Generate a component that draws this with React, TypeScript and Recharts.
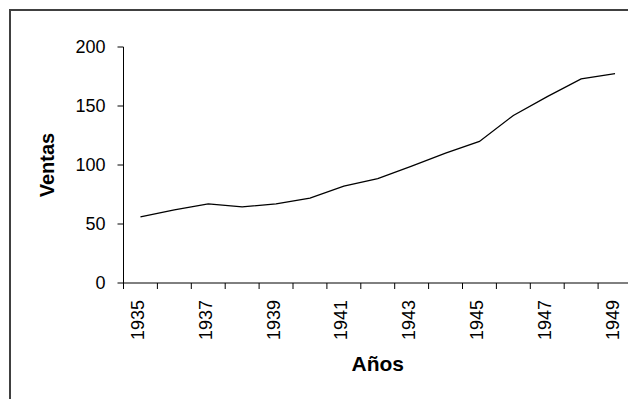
import React from 'react';
import { LineChart, Line, XAxis, YAxis } from 'recharts';

const years = [1935, 1936, 1937, 1938, 1939, 1940, 1941, 1942, 1943, 1944, 1945, 1946, 1947, 1948, 1949];
const ventas = [56, 62, 67, 64.5, 67, 72, 82, 88.5, 99, 110, 120, 142, 158, 173, 177.5];
const yTicks = [0, 50, 100, 150, 200];
const xLabelYears = [1935, 1937, 1939, 1941, 1943, 1945, 1947, 1949];
const xTickBounds = [1934.5, 1935.5, 1936.5, 1937.5, 1938.5, 1939.5, 1940.5, 1941.5, 1942.5, 1943.5, 1944.5, 1945.5, 1946.5, 1947.5, 1948.5, 1949.5];

const data = years.map((y, i) => ({ year: y, ventas: ventas[i] }));
const allXTicks = [...xTickBounds, ...xLabelYears].sort((a, b) => a - b);

const FONT = '"Liberation Sans", Arial, Helvetica, sans-serif';

const XTick = (props: any) => {
  const { x, y, payload } = props;
  const v = payload.value;
  if (xLabelYears.includes(v)) {
    return (
      <text
        transform={`translate(${x + 3.5},${y + 11}) rotate(-90)`}
        textAnchor="end"
        fontSize={18}
        fontFamily={FONT}
        fill="#000"
      >
        {v}
      </text>
    );
  }
  return <line x1={x} x2={x} y1={y - 6} y2={y} stroke="#000" strokeWidth={1} />;
};

export default function App() {
  return (
    <div style={{ position: 'relative', width: 628, height: 391, overflow: 'hidden', background: '#fff' }}>
      <div
        style={{
          position: 'absolute',
          left: 1,
          top: 1,
          width: 700,
          height: 500,
          borderTop: '2px solid #404040',
          borderLeft: '2px solid #404040',
        }}
      />
      <LineChart
        width={628}
        height={391}
        data={data}
        margin={{ top: 39, right: 4, left: 0, bottom: 0 }}
      >
        <XAxis
          dataKey="year"
          type="number"
          domain={[1934.5, 1949.5]}
          ticks={allXTicks}
          interval={0}
          tick={<XTick />}
          tickLine={false}
          tickSize={6}
          tickMargin={0}
          height={116}
          axisLine={{ stroke: '#000', strokeWidth: 1 }}
          label={{
            value: 'Años',
            position: 'insideBottom',
            offset: 28,
            style: { fontFamily: FONT, fontSize: 21, fontWeight: 'bold', fill: '#000' },
          }}
        />
        <YAxis
          domain={[0, 200]}
          ticks={yTicks}
          width={115.5}
          tickSize={6}
          tickMargin={12}
          interval={0}
          axisLine={{ stroke: '#000', strokeWidth: 1 }}
          tickLine={{ stroke: '#000', strokeWidth: 1 }}
          tick={{ fontFamily: FONT, fontSize: 18, fill: '#000' }}
          label={{
            value: 'Ventas',
            angle: -90,
            position: 'insideLeft',
            offset: 38.5,
            style: { fontFamily: FONT, fontSize: 20, fontWeight: 'bold', fill: '#000', textAnchor: 'middle' },
          }}
        />
        <Line
          type="linear"
          dataKey="ventas"
          stroke="#000"
          strokeWidth={1.3}
          dot={false}
          isAnimationActive={false}
        />
      </LineChart>
    </div>
  );
}
